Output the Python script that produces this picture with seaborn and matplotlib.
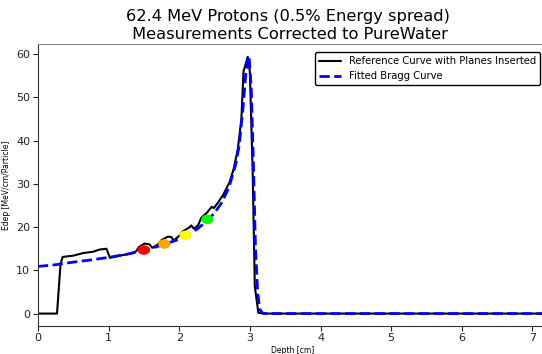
import numpy as np
import pandas as pd
import matplotlib
matplotlib.use("Agg")
import matplotlib.pyplot as plt
import seaborn as sns

# Reference curve (planes inserted)
ref_depth = [0.0, 0.27, 0.32, 0.35, 0.50, 0.64, 0.78, 0.87, 0.97, 1.02, 1.16, 1.32, 1.39, 1.43,
             1.51, 1.58, 1.62, 1.70, 1.75, 1.84, 1.89, 1.92, 2.01, 2.05, 2.15, 2.17, 2.21, 2.27,
             2.31, 2.39, 2.46, 2.49, 2.55, 2.62, 2.71, 2.77, 2.83, 2.88, 2.91, 2.97, 3.00, 3.04,
             3.07, 3.12, 3.19, 4.0, 5.0, 6.0, 7.3]
ref_edep = [0.0, 0.0, 11.5, 13.1, 13.4, 14.0, 14.3, 14.8, 15.0, 12.9, 13.4, 13.9, 14.4, 15.4,
            16.2, 16.0, 15.2, 16.0, 17.0, 17.8, 17.7, 16.9, 18.1, 19.0, 20.0, 20.4, 19.6, 20.5,
            22.1, 23.3, 24.7, 24.4, 25.7, 27.4, 30.3, 33.4, 38.1, 45.0, 56.0, 59.4, 55.9, 32.6,
            6.3, 0.2, 0.0, 0.0, 0.0, 0.0, 0.0]

# Fitted Bragg curve
fit_depth = [0.0, 0.25, 0.5, 0.75, 1.0, 1.25, 1.5, 1.75, 2.0, 2.25, 2.4, 2.5, 2.6, 2.7, 2.8,
             2.85, 2.9, 2.94, 2.97, 2.99, 3.02, 3.05, 3.08, 3.11, 3.14, 3.18, 3.25, 5.0, 7.3]
fit_edep = [10.9, 11.3, 11.9, 12.4, 13.0, 13.7, 14.6, 15.8, 17.2, 19.5, 21.5, 23.3, 25.6, 29.0,
            34.5, 39.0, 47.0, 55.0, 59.0, 59.5, 52.0, 35.0, 15.0, 5.0, 1.0, 0.1, 0.0, 0.0, 0.0]

# Plane markers
plane_depth = [1.50, 1.79, 2.09, 2.40]
plane_edep = [14.7, 16.1, 18.1, 21.8]
plane_colors = ["red", "orange", "yellow", "lime"]

ref_df = pd.DataFrame({"Depth": ref_depth, "Edep": ref_edep})
fit_df = pd.DataFrame({"Depth": fit_depth, "Edep": fit_edep})

sns.set_style("ticks")
plt.rcParams['font.family'] = ['DejaVu Sans']
plt.rcParams['text.color'] = 'black'
plt.rcParams['axes.labelcolor'] = 'black'
plt.rcParams['xtick.color'] = '#222222'
plt.rcParams['ytick.color'] = '#222222'

fig = plt.figure(figsize=(5.42, 3.54), dpi=100)
ax = fig.add_axes([0.070, 0.080, 0.941, 0.795])

sns.lineplot(data=ref_df, x="Depth", y="Edep", ax=ax, color="black", lw=1.5,
             label="Reference Curve with Planes Inserted", sort=False)
sns.lineplot(data=fit_df, x="Depth", y="Edep", ax=ax, color="blue", lw=2,
             linestyle="--", label="Fitted Bragg Curve", sort=False)

t = np.linspace(0, 2 * np.pi, 40)
ell = np.column_stack([1.3 * np.cos(t), np.sin(t)])
for xd, yd, c in zip(plane_depth, plane_edep, plane_colors):
    ax.scatter([xd], [yd], color=c, marker=ell, s=80, zorder=5, edgecolors="none")

ax.set_xlim(0, 7.22)
ax.set_ylim(-2.8, 62.3)
ax.set_xticks(range(0, 8))
ax.set_yticks(range(0, 61, 10))
ax.tick_params(labelsize=8, length=3.5, pad=2)
ax.set_xlabel("Depth [cm]", fontsize=5.5, labelpad=2)
ax.set_ylabel("Edep [MeV/cm/Particle]", fontsize=5.5, labelpad=4)
ax.set_title("62.4 MeV Protons (0.5% Energy spread)\n Measurements Corrected to PureWater",
             fontsize=11.7, pad=4, x=0.49)
for s in ax.spines.values():
    s.set_color("#333333")
ax.spines["top"].set_color("#888888")
leg = ax.legend(loc="upper right", fontsize=7.2, frameon=True, fancybox=True, framealpha=1,
                edgecolor="black", handlelength=2.2, borderaxespad=0.8)

fig.savefig("out.png", dpi=100)
